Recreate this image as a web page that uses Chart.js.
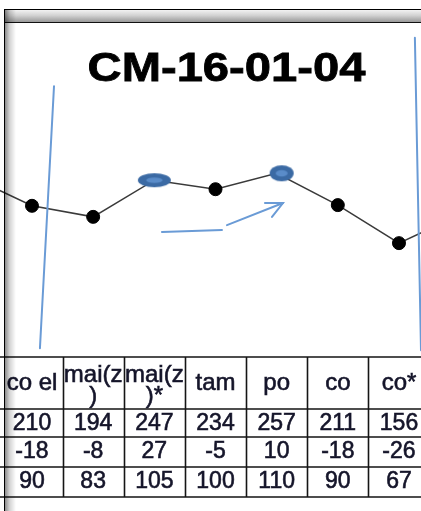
<!DOCTYPE html>
<html>
<head>
<meta charset="utf-8">
<script src="https://cdn.jsdelivr.net/npm/chart.js@4.4.1/dist/chart.umd.min.js"></script>
<style>
  html, body { margin: 0; padding: 0; background: #fff; overflow: hidden; }
  #caja { position: relative; width: 421px; height: 511px; }
  #graficoLinea { position: absolute; left: 0; top: 0; }
  #titulo {
    position: absolute; left: 0; top: 47px; width: 453px;
    text-align: center; font: bold 41px "Liberation Sans", Arial, sans-serif;
    line-height: 41px; color: #000; transform: scaleX(1.15); transform-origin: 226.5px 0;
    -webkit-text-stroke: 0.8px #000;
  }
  .barraSup {
    position: absolute; top: 9px; left: 4px; right: 0; height: 12px;
    border-top: 1px solid #000; border-bottom: 1.5px solid #111;
    background: linear-gradient(#f2f2f2, #d2d2d2 45%, #999);
    pointer-events: none;
  }
  .barraIzq {
    position: absolute; top: 9px; left: 4px; bottom: 0; width: 11px;
    border-left: 1.5px solid #000;
    background: linear-gradient(to right, rgba(0,0,0,0.45), rgba(0,0,0,0.18) 40%, rgba(0,0,0,0));
    pointer-events: none;
  }
</style>
</head>
<body>
<div id="caja">
  <canvas id="graficoLinea" width="421" height="511"></canvas>
  <div id="titulo">CM-16-01-04</div>
  <div class="barraSup"></div>
  <div class="barraIzq"></div>
</div>
<script>
// Columnas de la tabla (encabezados, con salto de linea como en la hoja)
const columnas = ['co el', 'mai(z\n)', 'mai(z\n)*', 'tam', 'po', 'co', 'co*']
// Fila 1 (la que se grafica)
const valores = [210, 194, 247, 234, 257, 211, 156]
// Fila 2
const diferencias = [-18, -8, 27, -5, 10, -18, -26]
// Fila 3
const porcentajes = [90, 83, 105, 100, 110, 90, 67]
// Puntos vecinos que quedan fuera de la imagen (estimados de la pendiente)
const valorAnterior = 252
const valorSiguiente = 197

// Trazos azules dibujados a mano, en coordenadas de los ejes [columna, valor]
const trazos = [
  [[0.36, 383], [0.13, 4]],
  [[6.26, 453], [6.36, 1]],
  [[2.125, 172], [3.106, 175]],
  [[3.188, 182], [4.103, 214]],
  [[3.809, 214], [4.103, 214], [3.924, 194]]
]

//Elipses azules que marcan algunos puntos
const crearElipse = (w, h, dx) => {
  let c = document.createElement('canvas')
  c.width = w + Math.abs(dx) * 2 + 2
  c.height = h + 2
  let ctx = c.getContext('2d')
  let cx = c.width / 2 + dx, cy = c.height / 2
  ctx.fillStyle = '#3b6aa4'
  ctx.beginPath()
  ctx.ellipse(cx, cy, w / 2, h / 2, 0, 0, Math.PI * 2)
  ctx.fill()
  ctx.fillStyle = '#5a8cc9'
  ctx.beginPath()
  ctx.ellipse(cx, cy, w / 4, h / 5, 0, 0, Math.PI * 2)
  ctx.fill()
  return c
}

const puntos = [{x: -1, y: valorAnterior}]
valores.forEach((v, i) => puntos.push({x: i, y: v}))
puntos.push({x: valores.length, y: valorSiguiente})

const estilos = puntos.map(p => 'circle')
estilos[3] = crearElipse(33, 14, 0)
estilos[5] = crearElipse(24, 16, 5)

const tablaPlugin = {
  id: 'tabla',
  afterDraw(chart) {
    const {ctx, scales: {x}} = chart
    const lineas = [357, 409, 437, 467, 497]
    ctx.save()
    ctx.strokeStyle = '#151515'
    ctx.lineWidth = 1.6
    ctx.beginPath()
    lineas.forEach(y => { ctx.moveTo(0, y); ctx.lineTo(chart.width, y) })
    for (let i = 0; i <= columnas.length; i++) {
      let px = Math.round(x.getPixelForValue(i - 0.5)) + 0.5
      if (px < 4) continue // queda bajo el marco
      ctx.moveTo(px, lineas[0]); ctx.lineTo(px, lineas[lineas.length - 1])
    }
    ctx.stroke()

    ctx.fillStyle = '#15152a'
    ctx.strokeStyle = '#15152a'
    ctx.lineWidth = 0.6
    ctx.textAlign = 'center'
    ctx.textBaseline = 'middle'
    const escribir = (t, px, py) => { ctx.fillText(t, px, py); ctx.strokeText(t, px, py) }
    ctx.font = '24px "Liberation Sans", Arial, sans-serif'
    columnas.forEach((txt, i) => {
      let cx = x.getPixelForValue(i)
      let partes = txt.split('\n')
      if (partes.length == 1) {
        escribir(txt, cx, 383)
      } else {
        escribir(partes[0], cx, 375)
        escribir(partes[1], cx, 396)
      }
    })
    ctx.font = '23px "Liberation Sans", Arial, sans-serif'
    const filas = [[valores, 424], [diferencias, 452], [porcentajes, 482]]
    filas.forEach(([fila, y]) => {
      fila.forEach((v, i) => escribir(String(v), x.getPixelForValue(i), y))
    })
    ctx.restore()
  }
}

const trazosPlugin = {
  id: 'trazos',
  afterDraw(chart) {
    const {ctx, scales: {x, y}} = chart
    ctx.save()
    ctx.strokeStyle = '#6a9bd6'
    ctx.lineWidth = 2
    ctx.lineCap = 'round'
    trazos.forEach(t => {
      ctx.beginPath()
      t.forEach(([cx, cy], k) => {
        let px = x.getPixelForValue(cx), py = y.getPixelForValue(cy)
        if (k == 0) ctx.moveTo(px, py)
        else ctx.lineTo(px, py)
      })
      ctx.stroke()
    })
    ctx.restore()
  }
}

let graficoLinea = new Chart(document.getElementById('graficoLinea'), {
  type: 'line',
  data: {
    datasets: [{
      data: puntos,
      borderColor: '#3a3a3a',
      borderWidth: 1.5,
      tension: 0,
      clip: false,
      pointStyle: estilos,
      pointRadius: 6.5,
      pointBackgroundColor: '#000',
      pointBorderColor: '#000',
      pointBorderWidth: 1
    }]
  },
  options: {
    responsive: false,
    animation: false,
    devicePixelRatio: 1,
    layout: { autoPadding: false, padding: { top: 109, bottom: 160, left: 0, right: 0 } },
    scales: {
      x: { type: 'linear', min: -0.523, max: 6.36, display: false },
      y: { min: 0, max: 350, display: false }
    },
    plugins: {
      legend: { display: false },
      tooltip: { enabled: false },
      title: { display: false }
    }
  },
  plugins: [tablaPlugin, trazosPlugin]
})
</script>
</body>
</html>
